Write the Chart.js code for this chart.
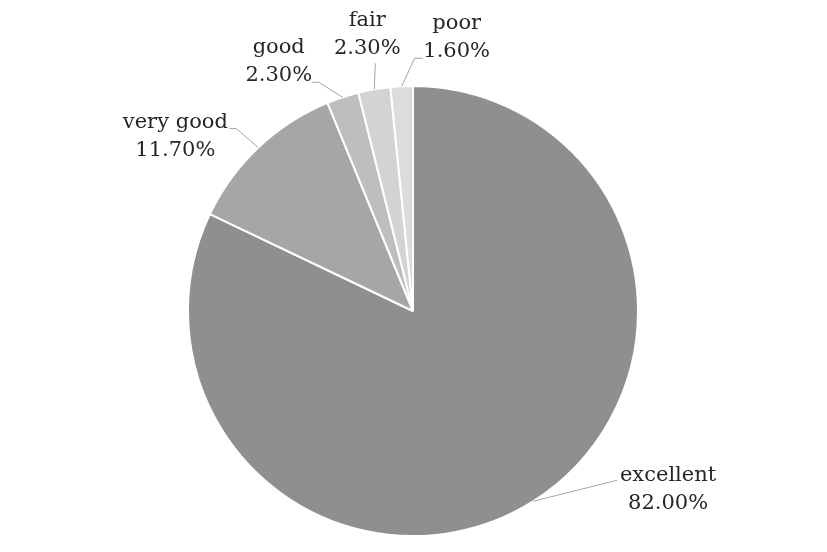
<!DOCTYPE html>
<html>
<head>
<meta charset="utf-8">
<script src="https://cdn.jsdelivr.net/npm/chart.js@4"></script>
<style>
    html, body { margin: 0; padding: 0; background: #fff; }
    #wrap { width: 827px; height: 552px; }
</style>
</head>
<body>
<div id="wrap"><canvas id="chart"></canvas></div>
<script>
// pie data
const categories = ['excellent', 'very good', 'good', 'fair', 'poor'];
const shares = [82.0, 11.7, 2.3, 2.3, 1.6];
const sliceColors = ['#8f8f8f', '#a6a6a6', '#bebebe', '#d3d3d3', '#dcdcdc'];

// label placement relative to the slice's outer midpoint (x = text centre, y = first baseline)
const labelOffsets = [[135, -20], [-83, -20], [-64, -44], [-7, -63], [55, -57]];
// leader line bends, same reference point
const leaderPoints = [
    [[84, -21]],
    [[-22, -19], [-29, -19]],
    [[-24, -15], [-31, -15]],
    [[1, -26]],
    [[13, -28], [21, -28]]
];

const labelFont = '21px "DejaVu Serif", serif';
const lineGap = 28;

const pieLabels = {
    id: 'pieLabels',
    afterDraw(chart) {
        const ctx = chart.ctx;
        const arcs = chart.getDatasetMeta(0).data;
        ctx.save();
        arcs.forEach((arc, i) => {
            const mid = (arc.startAngle + arc.endAngle) / 2;
            const ex = arc.x + Math.cos(mid) * arc.outerRadius;
            const ey = arc.y + Math.sin(mid) * arc.outerRadius;

            // leader
            ctx.strokeStyle = '#a3a3a3';
            ctx.lineWidth = 1;
            ctx.beginPath();
            ctx.moveTo(ex, ey);
            leaderPoints[i].forEach(p => ctx.lineTo(ex + p[0], ey + p[1]));
            ctx.stroke();

            // text
            ctx.fillStyle = '#262626';
            ctx.font = labelFont;
            ctx.textAlign = 'center';
            ctx.textBaseline = 'alphabetic';
            const lx = ex + labelOffsets[i][0];
            const ly = ey + labelOffsets[i][1];
            ctx.fillText(categories[i], lx, ly);
            ctx.fillText(shares[i].toFixed(2) + '%', lx, ly + lineGap);
        });
        ctx.restore();
    }
};

new Chart(document.getElementById('chart'), {
    type: 'pie',
    data: {
        labels: categories,
        datasets: [{
            data: shares,
            backgroundColor: sliceColors,
            borderColor: '#ffffff',
            borderWidth: 2,
            hoverOffset: 0
        }]
    },
    options: {
        responsive: true,
        maintainAspectRatio: false,
        animation: false,
        events: [],
        layout: {
            padding: { top: 85, bottom: 15, left: 0, right: 1 }
        },
        plugins: {
            legend: { display: false },
            tooltip: { enabled: false }
        }
    },
    plugins: [pieLabels]
});
</script>
</body>
</html>
